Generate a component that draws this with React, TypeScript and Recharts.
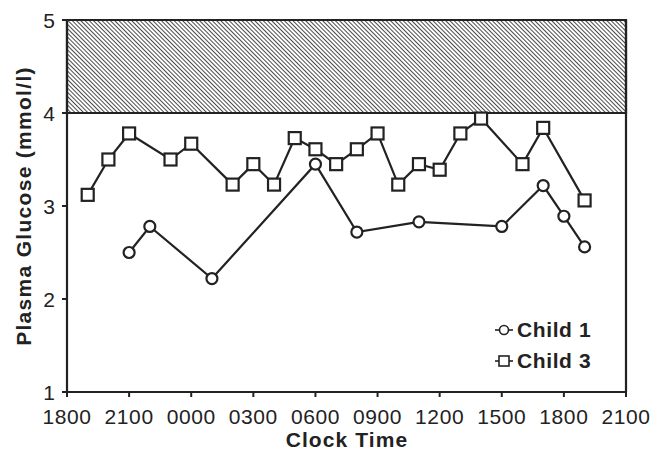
import {
  Label,
  Line,
  LineChart,
  ReferenceArea,
  ReferenceLine,
  XAxis,
  YAxis,
} from 'recharts';

// hours after 1800 on day 1
const child1Hours = [3, 4, 7, 12, 14, 17, 21, 23, 24, 25];
const child1Glucose = [2.5, 2.78, 2.22, 3.45, 2.72, 2.83, 2.78, 3.22, 2.89, 2.56];

const child3Hours = [1, 2, 3, 5, 6, 8, 9, 10, 11, 12, 13, 14, 15, 16, 17, 18, 19, 20, 22, 23, 25];
const child3Glucose = [
  3.12, 3.5, 3.78, 3.5, 3.67, 3.23, 3.45, 3.23, 3.73, 3.61, 3.45, 3.61, 3.78, 3.23, 3.45, 3.39,
  3.78, 3.94, 3.45, 3.84, 3.06,
];

const xTicks = [0, 3, 6, 9, 12, 15, 18, 21, 24, 27];
const xTickLabels = ['1800', '2100', '0000', '0300', '0600', '0900', '1200', '1500', '1800', '2100'];
const yTicks = [1, 2, 3, 4, 5];

const child1 = child1Hours.map((h, i) => ({ h, v: child1Glucose[i] }));
const child3 = child3Hours.map((h, i) => ({ h, v: child3Glucose[i] }));

const INK = '#222';
const FONT = '"Liberation Sans", Arial, sans-serif';

const SquareDot = (props: any) => {
  const { cx, cy, index } = props;
  if (cx == null || cy == null) return null;
  return (
    <rect
      key={`sq-${index}`}
      x={cx - 6}
      y={cy - 6}
      width={12}
      height={12}
      fill="#fff"
      stroke={INK}
      strokeWidth={2.2}
    />
  );
};

const XTick = (props: any) => {
  const { x, y, payload } = props;
  return (
    <text x={x} y={y + 15} textAnchor="middle" fill={INK} fontSize={21} fontFamily={FONT} letterSpacing={0.6}>
      {xTickLabels[xTicks.indexOf(payload.value)]}
    </text>
  );
};

const YTick = (props: any) => {
  const { x, y, payload } = props;
  return (
    <text x={x} y={y + 7.5} textAnchor="end" fill={INK} fontSize={21} fontFamily={FONT}>
      {payload.value}
    </text>
  );
};

export default function App() {
  return (
    <div style={{ position: 'absolute', left: 0, top: 0, width: 666, height: 452, fontFamily: FONT }}>
      <LineChart
        width={666}
        height={452}
        margin={{ top: 20, right: 40, bottom: 0, left: 0 }}
        style={{ fontFamily: FONT }}
      >
        <defs>
          <pattern id="hatch" width="3" height="3" patternUnits="userSpaceOnUse" patternTransform="rotate(-45)">
            <line x1="0" y1="0" x2="0" y2="3" stroke="#2a2a2a" strokeWidth="1.7" />
          </pattern>
        </defs>
        <XAxis
          type="number"
          dataKey="h"
          domain={[0, 27]}
          ticks={xTicks}
          height={60}
          axisLine={{ stroke: INK, strokeWidth: 2.2 }}
          tickLine={{ stroke: INK, strokeWidth: 2 }}
          tickSize={5}
          tickMargin={12}
          tick={<XTick />}
          interval={0}
        >
          <Label
            content={() => (
              <text
                x={347}
                y={447}
                textAnchor="middle"
                fill={INK}
                fontSize={21}
                fontWeight="bold"
                letterSpacing={1.1}
                fontFamily={FONT}
              >
                Clock Time
              </text>
            )}
          />
        </XAxis>
        <YAxis
          type="number"
          dataKey="v"
          domain={[1, 5]}
          ticks={yTicks}
          width={67}
          axisLine={{ stroke: INK, strokeWidth: 2.2 }}
          tickLine={{ stroke: INK, strokeWidth: 2 }}
          tickSize={5}
          tickMargin={7}
          tick={<YTick />}
          interval={0}
        >
          <Label
            content={() => (
              <text
                x={31}
                y={206}
                transform="rotate(-90 31 206)"
                textAnchor="middle"
                fill={INK}
                fontSize={21}
                fontWeight="bold"
                letterSpacing={1.3}
                fontFamily={FONT}
              >
                Plasma Glucose (mmol/l)
              </text>
            )}
          />
        </YAxis>
        <ReferenceArea
          y1={4}
          y2={5}
          x1={0}
          x2={27}
          fill="url(#hatch)"
          fillOpacity={1}
          stroke={INK}
          strokeWidth={2.2}
          ifOverflow="visible"
        />
        <ReferenceLine x={27} stroke={INK} strokeWidth={2.2} />
        <Line
          data={child1}
          dataKey="v"
          stroke={INK}
          strokeWidth={2.2}
          type="linear"
          dot={{ r: 5.5, fill: '#fff', stroke: INK, strokeWidth: 2.2 }}
          activeDot={false}
          isAnimationActive={false}
        />
        <Line
          data={child3}
          dataKey="v"
          stroke={INK}
          strokeWidth={2.2}
          type="linear"
          dot={<SquareDot />}
          activeDot={false}
          isAnimationActive={false}
        />
      </LineChart>
      <div
        style={{
          position: 'absolute',
          left: 494,
          top: 314,
          fontSize: 21,
          fontWeight: 'bold',
          letterSpacing: 0.6,
          color: INK,
          lineHeight: '31px',
        }}
      >
        <div style={{ display: 'flex', alignItems: 'center' }}>
          <svg width={20} height={14} style={{ marginRight: 3 }}>
            <line x1={1} y1={7} x2={19} y2={7} stroke={INK} strokeWidth={1.6} />
            <circle cx={10} cy={7} r={4.5} fill="#fff" stroke={INK} strokeWidth={1.6} />
          </svg>
          Child 1
        </div>
        <div style={{ display: 'flex', alignItems: 'center' }}>
          <svg width={20} height={14} style={{ marginRight: 3 }}>
            <line x1={1} y1={7} x2={19} y2={7} stroke={INK} strokeWidth={1.6} />
            <rect x={5} y={2} width={10} height={10} fill="#fff" stroke={INK} strokeWidth={1.6} />
          </svg>
          Child 3
        </div>
      </div>
    </div>
  );
}
